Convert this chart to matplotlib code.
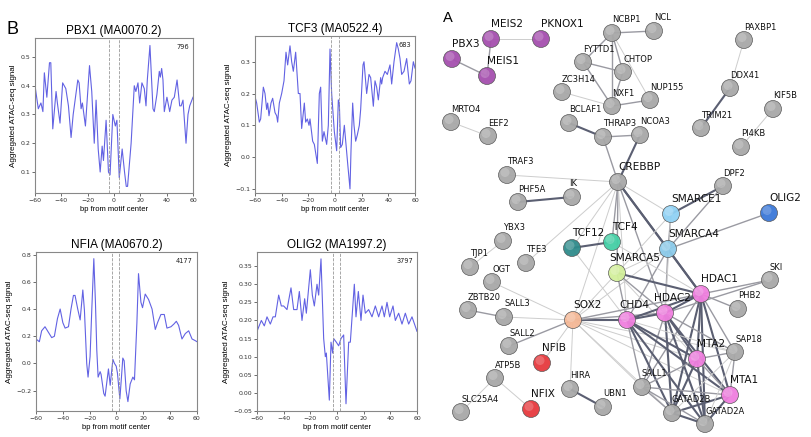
import matplotlib
matplotlib.use("Agg")
import matplotlib.pyplot as plt
from matplotlib.patches import Circle

# ---- panel B: aggregated ATAC-seq signal around motif centres ----
pbx1 = [(-60, 0.40), (-57.5, 0.32), (-55.5, 0.34), (-54, 0.31), (-52.9, 0.445), (-51, 0.36), (-49, 0.48),
        (-48, 0.48), (-46.5, 0.25), (-44, 0.38), (-43, 0.34), (-41, 0.27), (-39, 0.41), (-36.6, 0.39),
        (-34.6, 0.33), (-32.6, 0.22), (-31, 0.30), (-27.5, 0.42), (-26.5, 0.41), (-25, 0.32), (-24, 0.34),
        (-21.7, 0.26), (-18.6, 0.47), (-16.9, 0.38), (-15, 0.20), (-13.6, 0.35), (-12, 0.18), (-10.5, 0.10),
        (-9, 0.19), (-8, 0.14), (-6, 0.28), (-4.2, 0.10), (-3, 0.09), (-0.9, 0.30), (1, 0.26), (2.2, 0.28),
        (4, 0.08), (6.2, 0.18), (8, 0.10), (9.3, 0.05), (10.3, 0.05), (13, 0.20), (15.4, 0.40), (16.6, 0.38),
        (18.2, 0.41), (19.5, 0.34), (21.2, 0.41), (23, 0.39), (24.3, 0.33), (25.3, 0.42), (27.3, 0.54),
        (29.6, 0.32), (30.6, 0.31), (32.6, 0.37), (34.4, 0.45), (35.2, 0.43), (36.2, 0.46), (37.2, 0.42),
        (38.2, 0.31), (40.2, 0.36), (42.3, 0.31), (44, 0.35), (45.8, 0.36), (47.9, 0.42), (49.9, 0.33),
        (51, 0.33), (52.4, 0.35), (54.7, 0.20), (56.2, 0.30), (57.5, 0.33), (60, 0.36)]

tcf3 = [(-60, 0.19), (-58.75, 0.17), (-56.75, 0.11), (-55.75, 0.12), (-53.75, 0.22), (-52.5, 0.20),
        (-51.25, 0.15), (-50.5, 0.17), (-49.5, 0.13), (-48, 0.17), (-46.75, 0.185), (-45, 0.14),
        (-43.75, 0.13), (-43, 0.11), (-41.75, 0.17), (-40, 0.20), (-38.25, 0.24), (-36.75, 0.33),
        (-35.5, 0.29), (-33.75, 0.35), (-32.5, 0.30), (-31.25, 0.27), (-29.5, 0.33), (-27.5, 0.20),
        (-26.25, 0.20), (-25, 0.09), (-23, 0.17), (-22, 0.11), (-20.75, 0.12), (-19.5, 0.10), (-18.75, 0.12),
        (-16.75, 0.05), (-15.5, 0.04), (-13.25, -0.02), (-11.75, 0.20), (-10.75, 0.22), (-9.5, 0.05),
        (-8.25, 0.08), (-6.25, 0.04), (-5, 0.10), (-3.75, 0.34), (-2.5, 0.20), (-0.5, 0.08), (1.25, 0.02),
        (2.5, 0.18), (3.25, 0.17), (4.25, 0.03), (5.5, 0.04), (7, 0.10), (9.5, -0.02), (11.25, -0.10),
        (12, 0.02), (13.25, 0.17), (14.25, 0.10), (15.5, 0.05), (16.75, 0.07), (18.25, 0.10), (19.25, 0.15),
        (21, 0.29), (21.75, 0.30), (23.75, 0.20), (25.5, 0.26), (26.75, 0.25), (28.75, 0.16), (30, 0.24),
        (31.25, 0.22), (32.5, 0.18), (34.25, 0.25), (35, 0.23), (35.75, 0.25), (37.5, 0.27), (39.25, 0.26),
        (41.25, 0.29), (42.5, 0.23), (44.25, 0.30), (46.25, 0.36), (47.5, 0.34), (48.75, 0.31), (50, 0.26),
        (51.75, 0.27), (53.75, 0.31), (55.75, 0.23), (57, 0.24), (58.75, 0.30), (60, 0.28)]

nfia = [(-60, 0.18), (-57.5, 0.16), (-55.8, 0.24), (-53.3, 0.27), (-50.8, 0.23), (-48.3, 0.19), (-46.3, 0.20),
        (-44, 0.33), (-42, 0.40), (-40, 0.30), (-38.3, 0.26), (-35.8, 0.27), (-33.9, 0.40), (-32.1, 0.50),
        (-30.9, 0.50), (-28.9, 0.40), (-27.1, 0.32), (-25.1, 0.54), (-23.9, 0.39), (-22.2, 0.0), (-21.2, -0.10),
        (-19.7, 0.05), (-18.4, 0.40), (-16.9, 0.77), (-15.7, 0.45), (-14.7, 0.10), (-13.7, -0.10),
        (-12.2, -0.06), (-11.5, -0.08), (-9.5, -0.22), (-8.5, -0.24), (-7, -0.12), (-6, -0.04), (-4.7, -0.16),
        (-2.7, 0.03), (-1.5, 0.0), (-0.2, -0.02), (0.7, -0.07), (2.5, -0.26), (3.7, -0.10), (4.7, 0.04),
        (5.7, 0.02), (7.2, -0.20), (8.5, -0.28), (10.2, -0.15), (12.2, -0.10), (13.4, -0.12), (15.2, 0.30),
        (16.4, 0.66), (18.2, 0.45), (19.4, 0.41), (21.4, 0.51), (23.9, 0.47), (26.5, 0.40), (28.9, 0.25),
        (30.6, 0.30), (33.1, 0.36), (35.6, 0.36), (37.6, 0.26), (40.6, 0.27), (42.8, 0.29), (44.6, 0.31),
        (46.3, 0.28), (48.8, 0.18), (51.3, 0.22), (53.8, 0.24), (56.3, 0.18), (58.3, 0.17), (60, 0.16)]

olig2 = [(-60, 0.17), (-56.75, 0.20), (-54.5, 0.185), (-52.5, 0.21), (-50, 0.19), (-48, 0.21), (-46.25, 0.21),
         (-43.75, 0.27), (-41.75, 0.24), (-40, 0.24), (-37.5, 0.23), (-34.5, 0.29), (-32.5, 0.23), (-30, 0.23),
         (-28.25, 0.28), (-26.25, 0.20), (-24.25, 0.26), (-23, 0.22), (-20, 0.34), (-18.5, 0.27), (-17, 0.24),
         (-15, 0.30), (-13.75, 0.27), (-12, 0.37), (-10, 0.15), (-8.75, 0.10), (-8, 0.11), (-5.75, -0.02),
         (-4.5, 0.14), (-3.25, 0.11), (-2.5, 0.15), (-0.5, 0.14), (1.25, 0.13), (3, 0.15), (5, 0.16),
         (6, 0.05), (6.75, -0.03), (8.75, 0.14), (10, 0.14), (13, 0.30), (14.25, 0.21), (16, 0.28), (18, 0.20),
         (19.5, 0.27), (21.25, 0.22), (23.75, 0.23), (26.25, 0.21), (28.75, 0.24), (31.25, 0.21),
         (33.75, 0.24), (35.5, 0.21), (37.5, 0.25), (39.5, 0.21), (42, 0.24), (43.75, 0.20), (46.25, 0.22),
         (48.75, 0.19), (51.25, 0.22), (53.75, 0.19), (56.25, 0.21), (60, 0.17)]

titulos = ["PBX1 (MA0070.2)", "TCF3 (MA0522.4)", "NFIA (MA0670.2)", "OLIG2 (MA1997.2)"]
n_sitios = ["796", "683", "4177", "3797"]
motivo = [(-4, 4), (-3, 3), (-3, 2), (-3, 2)]
y_lims = [(0.027, 0.566), (-0.113, 0.381), (-0.349, 0.819), (-0.05, 0.389)]
y_ticks = [[0.1, 0.2, 0.3, 0.4, 0.5], [-0.1, 0.0, 0.1, 0.2, 0.3],
           [-0.2, 0.0, 0.2, 0.4, 0.6, 0.8],
           [-0.05, 0.0, 0.05, 0.10, 0.15, 0.20, 0.25, 0.30, 0.35]]
x_ticks = [-60, -40, -20, 0, 20, 40, 60]

# ---- panel A: STRING network ----
nodos = ["MEIS2", "PKNOX1", "PBX3", "MEIS1", "MRTO4", "EEF2", "NCBP1", "NCL", "FYTTD1", "CHTOP", "ZC3H14",
         "NXF1", "NUP155", "BCLAF1", "THRAP3", "NCOA3", "PAXBP1", "DDX41", "TRIM21", "KIF5B", "PI4KB",
         "CREBBP", "DPF2", "SMARCE1", "OLIG2", "TRAF3", "PHF5A", "IK", "YBX3", "TJP1", "TFE3", "OGT",
         "ZBTB20", "SALL3", "SALL2", "TCF12", "TCF4", "SMARCA4", "SMARCA5", "SOX2", "CHD4", "HDAC2",
         "HDAC1", "SKI", "PHB2", "MTA2", "SAP18", "SALL1", "MTA1", "GATAD2B", "GATAD2A", "NFIB", "NFIX",
         "ATP5B", "SLC25A4", "HIRA", "UBN1"]
nodo_x = [491, 541, 452, 487, 451, 488, 612, 654, 583, 623, 562,
          612, 650, 569, 603, 640, 744, 730, 701, 773, 741,
          618, 723, 671, 769, 507, 518, 572, 503, 470, 526, 492,
          468, 504, 509, 572, 612, 668, 617, 573, 627, 665,
          701, 770, 738, 697, 735, 642, 730, 672, 705, 542, 531,
          495, 461, 570, 603]
nodo_y = [39, 39, 59, 76, 122, 136, 33, 31, 62, 72, 92,
          106, 100, 123, 137, 135, 40, 88, 128, 109, 147,
          182, 186, 214, 213, 175, 202, 197, 241, 267, 263, 282,
          310, 317, 346, 248, 242, 249, 273, 320, 320, 313,
          294, 280, 309, 359, 352, 387, 395, 413, 424, 363, 409,
          378, 412, 389, 407]
colores = {"MEIS2": "#a54fae", "PKNOX1": "#a54fae", "PBX3": "#a54fae", "MEIS1": "#a54fae",
           "SMARCE1": "#8fd1f4", "SMARCA4": "#8ccbea", "OLIG2": "#3b78d8", "TCF12": "#2f8b8b",
           "TCF4": "#44cfa6", "SMARCA5": "#d3f09b", "SOX2": "#f5b896",
           "CHD4": "#f07fdf", "HDAC2": "#f07fdf", "HDAC1": "#f07fdf", "MTA2": "#f07fdf", "MTA1": "#f07fdf",
           "NFIB": "#e63a3e", "NFIX": "#e63a3e"}
etiqueta_grande = list(colores.keys()) + ["CREBBP"]
desplaz_etiqueta = {"HDAC2": -11, "CHD4": -8, "SMARCA5": -8, "IK": -3}

aristas = [("MEIS2", "PKNOX1", 1), ("MEIS2", "MEIS1", 2), ("PBX3", "MEIS1", 2), ("MRTO4", "EEF2", 1),
           ("NCBP1", "NCL", 2), ("NCBP1", "FYTTD1", 2), ("NCBP1", "CHTOP", 2), ("NCBP1", "NXF1", 2),
           ("NCBP1", "NUP155", 1), ("FYTTD1", "CHTOP", 2), ("FYTTD1", "NXF1", 2), ("CHTOP", "NXF1", 2),
           ("ZC3H14", "NXF1", 1), ("NXF1", "NUP155", 2), ("BCLAF1", "THRAP3", 3), ("THRAP3", "NCOA3", 2),
           ("THRAP3", "CREBBP", 2), ("NCOA3", "CREBBP", 3), ("PAXBP1", "DDX41", 1), ("DDX41", "TRIM21", 3),
           ("KIF5B", "PI4KB", 1), ("TRAF3", "CREBBP", 1), ("PHF5A", "IK", 3), ("YBX3", "TJP1", 1),
           ("TFE3", "CREBBP", 1), ("CREBBP", "TCF12", 1), ("CREBBP", "TCF4", 2), ("CREBBP", "SMARCA5", 2),
           ("CREBBP", "SMARCE1", 1), ("CREBBP", "SMARCA4", 3), ("CREBBP", "HDAC1", 3), ("CREBBP", "HDAC2", 2),
           ("CREBBP", "CHD4", 1), ("CREBBP", "SOX2", 1),
           ("DPF2", "SMARCE1", 3), ("DPF2", "SMARCA4", 2), ("SMARCE1", "SMARCA4", 2), ("SMARCA4", "OLIG2", 2),
           ("SMARCA4", "HDAC1", 3), ("SMARCA4", "HDAC2", 2), ("SMARCA4", "CHD4", 2), ("SMARCA4", "SMARCA5", 1),
           ("SMARCA4", "SOX2", 1), ("SMARCE1", "SMARCA5", 1), ("SMARCE1", "HDAC2", 1),
           ("TCF12", "TCF4", 3), ("TCF12", "CHD4", 1), ("TCF4", "HDAC1", 1),
           ("SMARCA5", "HDAC1", 3), ("SMARCA5", "HDAC2", 2), ("SMARCA5", "CHD4", 2), ("SMARCA5", "SOX2", 1),
           ("SMARCA5", "MTA2", 1),
           ("SOX2", "OGT", 1), ("SOX2", "SALL3", 1), ("SOX2", "SALL2", 2), ("SOX2", "NFIB", 1),
           ("SOX2", "HIRA", 1), ("SOX2", "CHD4", 3), ("SOX2", "HDAC2", 2), ("SOX2", "HDAC1", 2),
           ("SOX2", "MTA2", 1), ("SOX2", "MTA1", 1), ("SOX2", "SALL1", 1), ("SOX2", "GATAD2B", 1),
           ("SOX2", "SAP18", 1), ("ZBTB20", "SALL3", 2), ("HIRA", "UBN1", 3), ("ATP5B", "SLC25A4", 1),
           ("ATP5B", "NFIX", 1), ("HDAC1", "SKI", 2), ("HDAC2", "SKI", 2), ("HDAC1", "PHB2", 2),
           ("HDAC1", "HDAC2", 3), ("HDAC1", "CHD4", 3), ("HDAC1", "MTA2", 3), ("HDAC1", "MTA1", 3),
           ("HDAC1", "SAP18", 2), ("HDAC1", "SALL1", 2), ("HDAC1", "GATAD2B", 3), ("HDAC1", "GATAD2A", 3),
           ("HDAC2", "CHD4", 3), ("HDAC2", "MTA2", 3), ("HDAC2", "MTA1", 3), ("HDAC2", "SAP18", 2),
           ("HDAC2", "SALL1", 2), ("HDAC2", "GATAD2B", 3), ("HDAC2", "GATAD2A", 3),
           ("CHD4", "MTA2", 3), ("CHD4", "MTA1", 3), ("CHD4", "SALL1", 2), ("CHD4", "GATAD2B", 3),
           ("CHD4", "GATAD2A", 3), ("CHD4", "SAP18", 1), ("MTA2", "MTA1", 2), ("MTA2", "SAP18", 2),
           ("MTA2", "SALL1", 2), ("MTA2", "GATAD2B", 3), ("MTA2", "GATAD2A", 3), ("MTA1", "SAP18", 2),
           ("MTA1", "SALL1", 2), ("MTA1", "GATAD2B", 3), ("MTA1", "GATAD2A", 3), ("SAP18", "GATAD2A", 1),
           ("SAP18", "GATAD2B", 1), ("SALL1", "GATAD2B", 2), ("SALL1", "GATAD2A", 2), ("GATAD2B", "GATAD2A", 3)]

estilo_arista = {1: ("#cdcdcd", 0.7), 2: ("#9a9aa2", 1.0), 3: ("#5b5f72", 1.5)}

W, H = 811, 437
fig = plt.figure(figsize=(W / 100, H / 100), dpi=100)

# left edge, top edge, right edge, bottom edge in pixels
cajas = [(35, 38, 193, 193), (255, 36, 415, 193), (36, 252, 197, 411), (257, 252, 417, 411)]
datos = [pbx1, tcf3, nfia, olig2]

for i in range(4):
    l, t, r, b = cajas[i]
    ax = fig.add_axes([l / W, 1 - b / H, (r - l) / W, (b - t) / H])
    xs = [p[0] for p in datos[i]]
    ys = [p[1] for p in datos[i]]
    ax.plot(xs, ys, color="#3b3bdc", alpha=0.8, lw=0.8)
    for xv in motivo[i]:
        ax.axvline(xv, color="#999999", ls="--", lw=0.6)
    ax.set_xlim(-60, 60)
    ax.set_ylim(*y_lims[i])
    ax.set_xticks(x_ticks)
    ax.set_yticks(y_ticks[i])
    ax.tick_params(labelsize=4.5, length=2, width=0.5, pad=1.5, colors="#333333")
    for s in ax.spines.values():
        s.set_color("#888888")
        s.set_linewidth(0.8)
    ax.set_title(titulos[i], fontsize=8.5, family="Liberation Sans", pad=3)
    ax.set_xlabel("bp from motif center", fontsize=5.5, family="Liberation Sans", labelpad=2)
    ax.set_ylabel("Aggregated ATAC-seq signal", fontsize=5.8, family="Liberation Sans", labelpad=2)
    ax.text(0.975, 0.96, n_sitios[i], transform=ax.transAxes, ha="right", va="top", fontsize=4.8,
            color="#222222")

fig.text(12 / W, 1 - 30 / H, "B", fontsize=13, family="Liberation Sans", ha="center", va="center")

# network panel in pixel coordinates
axn = fig.add_axes([420 / W, 0, (W - 420) / W, 1])
axn.set_xlim(420, W)
axn.set_ylim(H, 0)
axn.axis("off")

pos = {n: (nodo_x[k], nodo_y[k]) for k, n in enumerate(nodos)}
for a, b2, w in aristas:
    c, lw = estilo_arista[w]
    axn.plot([pos[a][0], pos[b2][0]], [pos[a][1], pos[b2][1]], color=c, lw=lw, zorder=1,
             solid_capstyle="round")

for n in nodos:
    x, y = pos[n]
    fc = colores.get(n, "#a8a8a8")
    axn.add_patch(Circle((x, y), 8.5, facecolor=fc, edgecolor="#555555", lw=0.5, alpha=0.95, zorder=2))
    axn.add_patch(Circle((x - 2, y - 2.5), 4.5, facecolor="white", edgecolor="none", alpha=0.2, zorder=3))
    grande = n in etiqueta_grande
    axn.text(x + desplaz_etiqueta.get(n, 0), y - (15 if grande else 13), n,
             fontsize=7.6 if grande else 6.0, ha="left", va="center", color="#111111", zorder=4)

axn.text(448, 18, "A", fontsize=10.5, family="Liberation Sans", ha="center", va="center")

fig.savefig("out.png", dpi=100)
